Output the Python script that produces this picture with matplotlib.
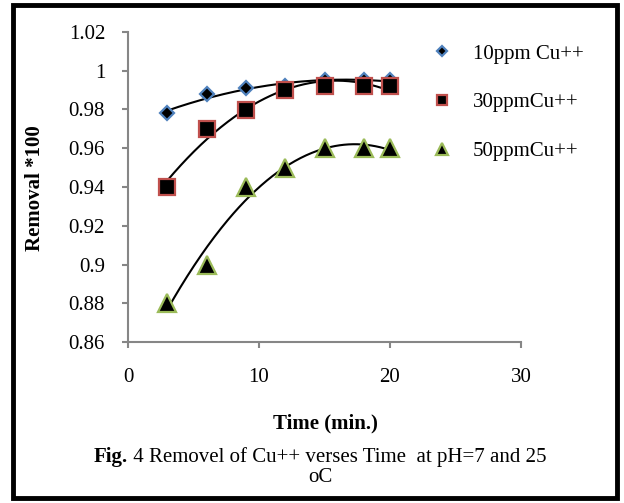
import numpy as np
import matplotlib
matplotlib.use("Agg")
import matplotlib.pyplot as plt
from matplotlib.patches import Rectangle

# data
time_min = [3, 6, 9, 12, 15, 18, 20]
cu_10ppm = [0.978, 0.988, 0.991, 0.992, 0.995, 0.995, 0.995]
cu_30ppm = [0.940, 0.970, 0.980, 0.990, 0.992, 0.992, 0.992]
cu_50ppm = [0.880, 0.900, 0.940, 0.950, 0.960, 0.960, 0.960]
labels = ["10ppm Cu++", "30ppmCu++", "50ppmCu++"]

plt.rcParams['font.family'] = ['Liberation Serif', 'DejaVu Serif']

W, H = 624, 503
fig = plt.figure(figsize=(W / 100, H / 100), dpi=100)
ax = fig.add_axes([128 / W, 1 - 342 / H, (521 - 128) / W, (342 - 32) / H])

series = [
    (cu_10ppm, 'D', 7.5, '#4F81BD'),
    (cu_30ppm, 's', 12, '#C0504D'),
    (cu_50ppm, '^', 12.5, '#9BBB59'),
]

x = np.array(time_min, dtype=float)
xs = np.linspace(x.min(), x.max(), 200)
handles = []
for (vals, mk, ms, ec), lab in zip(series, labels):
    coef = np.polyfit(x, vals, 2)   # excel-style 2nd order trendline
    ax.plot(xs, np.polyval(coef, xs), color='black', lw=1.5, zorder=2)
    h, = ax.plot(x, vals, linestyle='none', marker=mk, markersize=ms,
                 markerfacecolor='black', markeredgecolor=ec,
                 markeredgewidth=1.6, label=lab, zorder=3)
    handles.append(h)

ax.set_xlim(0, 30)
ax.set_ylim(0.86, 1.02)
ax.set_xticks([0, 10, 20, 30])
ax.set_yticks(np.arange(0.86, 1.0201, 0.02))
ax.set_yticklabels(['0.86', '0.88', '0.9', '0.92', '0.94', '0.96', '0.98', '1', '1.02'])

for side in ['top', 'right']:
    ax.spines[side].set_visible(False)
for side in ['left', 'bottom']:
    ax.spines[side].set_color('#868686')
    ax.spines[side].set_linewidth(1.5)
ax.tick_params(axis='both', colors='#868686', width=1.5, length=4.5,
               labelsize=15, labelcolor='black')
ax.tick_params(axis='y', pad=12)
ax.tick_params(axis='x', pad=14)

fig.legend(handles=handles, loc='upper left', bbox_to_anchor=(432 / W, 1 - 44 / H),
           frameon=False, fontsize=15, markerscale=0.65, handlelength=1.0,
           handletextpad=0.95, labelspacing=1.4, borderpad=0, borderaxespad=0)

fig.text(35 / W, 1 - 188 / H, 'Removal *100', rotation=90, fontsize=15,
         fontweight='bold', ha='center', va='center')
fig.text(325 / W, 1 - 423 / H, 'Time (min.)', fontsize=15, fontweight='bold',
         ha='center', va='center')

# caption with bold "Fig." prefix
cx, cy = 320 / W, 1 - 457 / H
t1 = fig.text(0, cy, 'Fig.', fontsize=15, fontweight='bold', va='center')
t2 = fig.text(0, cy, ' 4 Removel of Cu++ verses Time  at pH=7 and 25', fontsize=15, va='center')
r = fig.canvas.get_renderer()
w1 = t1.get_window_extent(r).width / W
w2 = t2.get_window_extent(r).width / W
start = cx - (w1 + w2) / 2
t1.set_x(start)
t2.set_x(start + w1)
fig.text(cx, 1 - 478 / H, 'oC', fontsize=15, ha='center', va='center')

fig.patches.append(Rectangle((13 / W, 5 / H), (617 - 13) / W, (498 - 5) / H,
                             transform=fig.transFigure, fill=False,
                             edgecolor='black', linewidth=3.5))

fig.savefig('out.png', dpi=100)
